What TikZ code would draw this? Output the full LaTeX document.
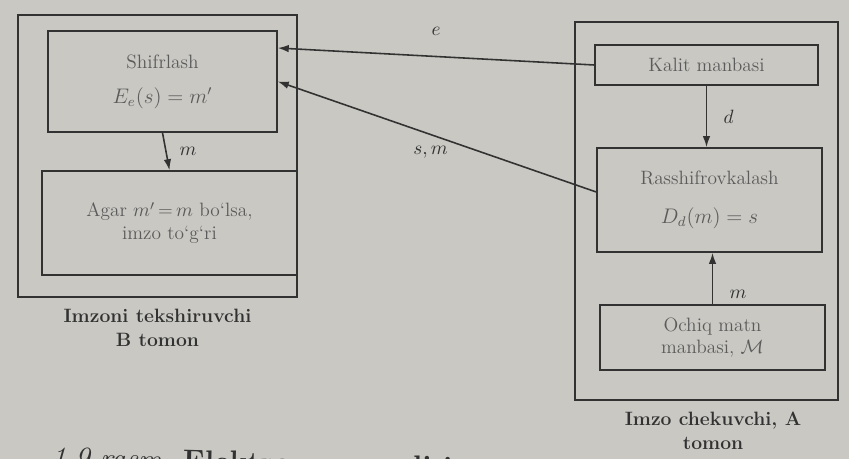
\documentclass[tikz,border=0pt]{standalone}
\usetikzlibrary{arrows.meta}
\definecolor{paper}{RGB}{201,200,195}
\definecolor{ink}{RGB}{50,50,50}
\begin{document}
\begin{tikzpicture}[x=0.02cm,y=-0.02cm,line width=.9pt,color=ink,font=\fontsize{11}{13}\selectfont,
  box/.style={draw=ink,rectangle,inner sep=0pt,align=center,text=ink!80},
  frame/.style={draw=ink,rectangle,inner sep=0pt},
  link/.style={-{Latex[length=2.2mm,width=1.5mm]}},
  side/.style={font=\fontsize{11}{14}\selectfont\bfseries,align=center,anchor=north,inner sep=0pt}]
\clip (0,0) rectangle (849,459);
\fill[paper] (0,0) rectangle (849,459);
\node[frame,minimum width=5.58cm,minimum height=5.64cm] (bframe) at (157.5,156) {};
\node[box,minimum width=4.58cm,minimum height=2.02cm] (shifr) at (162.5,81.5) {Shifrlash\\[7pt]{\large$E_e(s)=m'$}};
\node[box,minimum width=5.10cm,minimum height=2.08cm] (agar) at (169.5,223) {Agar $m'$\,=\,$m$ bo`lsa,\\imzo to`g`ri};
\node[frame,minimum width=5.26cm,minimum height=7.56cm] (aframe) at (706.5,211) {};
\node[box,minimum width=4.46cm,minimum height=0.8cm] (kalit) at (706.5,65) {Kalit manbasi};
\node[box,minimum width=4.50cm,minimum height=2.08cm] (rassh) at (709.5,200) {Rasshifrovkalash\\[9pt]{\large$D_d(m)=s$}};
\node[box,minimum width=4.50cm,minimum height=1.30cm] (ochiq) at (712.5,337.5) {Ochiq matn\\manbasi, $\mathcal{M}$};
\draw[link] (kalit.west) -- ([yshift=.67cm]shifr.east) node[midway,above=8pt] {$e$};
\draw[link] ([yshift=.16cm]rassh.west) -- (shifr.east) node[pos=.52,below=3pt] {$s,m$};
\draw[link] (shifr.south) -- (agar.north) node[midway,right=4pt] {$m$};
\draw[link] (kalit.south) -- (kalit.south |- rassh.north) node[midway,right=6pt] {$d$};
\draw[link] (ochiq.north) -- (ochiq.north |- rassh.south) node[pos=.2,right=6pt] {$m$};
\node[side] (bside) at (157.5,308) {Imzoni tekshiruvchi\\B tomon};
\node[side] (aside) at (713,411) {Imzo chekuvchi, A\\tomon};
\node[anchor=base west,rotate=-1.5,inner sep=0pt,font=\fontsize{17}{20}\selectfont] (caption) at (50,467) {\textit{1.9-rasm.} \textbf{Elektron raqamli imzo}};
\end{tikzpicture}
\end{document}
